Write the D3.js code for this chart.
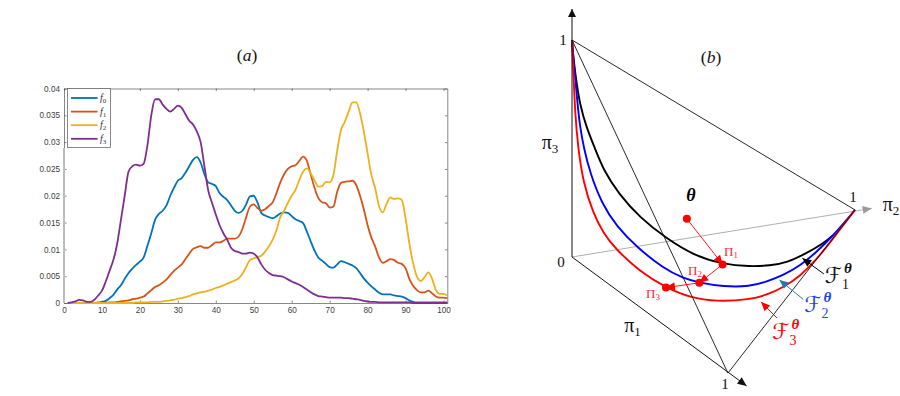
<!DOCTYPE html>
<html>
<head>
<meta charset="utf-8">
<script src="https://cdn.jsdelivr.net/npm/d3@7"></script>
<style>
  html, body { margin: 0; padding: 0; background: #fff; }
  svg { display: block; }
  .math { font-family: 'Liberation Serif', serif; }
  .script { font-family: 'DejaVu Sans', sans-serif; }
  .axis text { font-family: 'Liberation Sans', sans-serif; font-size: 8.2px; fill: #404040; }
  .axis path, .axis line { stroke: #555; stroke-width: 0.7; }
</style>
</head>
<body>
<div id="chart"></div>
<script>
// values at x = 1 ... 101
const f0 = [
  0, 0, 0, 0, 0, 0, 0, 0, 0.0001, 0.0002,
  0.0004, 0.0009, 0.0015, 0.0025, 0.0033, 0.0045, 0.0056, 0.0064, 0.0071, 0.0077,
  0.0085, 0.0107, 0.013, 0.0155, 0.0166, 0.0172, 0.0182, 0.02, 0.0215, 0.0228,
  0.0233, 0.0243, 0.0255, 0.0267, 0.0272, 0.0262, 0.024, 0.0225, 0.0222, 0.0218,
  0.0205, 0.0198, 0.0192, 0.0182, 0.0172, 0.0168, 0.0172, 0.0184, 0.0199, 0.02,
  0.0187, 0.0168, 0.0163, 0.016, 0.0158, 0.0162, 0.0167, 0.0169, 0.0168, 0.0162,
  0.0156, 0.0153, 0.0149, 0.0133, 0.0115, 0.0098, 0.0085, 0.0079, 0.0073, 0.0067,
  0.0066, 0.0072, 0.0078, 0.0076, 0.0073, 0.007, 0.0065, 0.0056, 0.0046, 0.0038,
  0.0031, 0.0025, 0.0019, 0.0016, 0.0016, 0.0016, 0.0014, 0.0013, 0.0012, 0.0009,
  0.0005, 0.0002, 0.0001, 0.0001, 0.0001, 0.0001, 0.0001, 0.0001, 0.0001, 0.0001,
  0.0001
]
const f1 = [
  0, 0, 0, 0, 0, 0, 0, 0, 0, 0,
  0, 0.0001, 0.0001, 0.0002, 0.0003, 0.0004, 0.0005, 0.0007, 0.0008, 0.001,
  0.0012, 0.0018, 0.0024, 0.003, 0.0033, 0.0038, 0.0044, 0.0052, 0.006, 0.0066,
  0.0072, 0.0082, 0.0092, 0.0101, 0.0104, 0.0106, 0.0103, 0.0103, 0.0108, 0.0113,
  0.0113, 0.0116, 0.012, 0.012, 0.012, 0.0124, 0.0138, 0.016, 0.018, 0.0184,
  0.0177, 0.0172, 0.0175, 0.0181, 0.0188, 0.0205, 0.0225, 0.024, 0.025, 0.0255,
  0.0257, 0.0265, 0.0273, 0.0265, 0.024, 0.0215, 0.0196, 0.0188, 0.0186, 0.0178,
  0.018, 0.0208, 0.0224, 0.0226, 0.0227, 0.0228, 0.022, 0.02, 0.0175, 0.0145,
  0.0122, 0.0105, 0.0085, 0.0075, 0.0078, 0.0082, 0.008, 0.0075, 0.0073, 0.0065,
  0.0045, 0.0032, 0.0024, 0.002, 0.002, 0.0023, 0.0018, 0.0012, 0.001, 0.001,
  0.0009
]
const f2 = [
  0, 0, 0, 0, 0, 0, 0, 0, 0, 0,
  0, 0, 0, 0, 0, 0, 0, 0, 0.0001, 0.0001,
  0.0001, 0.0001, 0.0002, 0.0002, 0.0002, 0.0003, 0.0004, 0.0005, 0.0006, 0.0008,
  0.0009, 0.0011, 0.0013, 0.0016, 0.0018, 0.002, 0.0021, 0.0023, 0.0025, 0.0028,
  0.003, 0.0033, 0.0036, 0.0039, 0.0042, 0.0046, 0.0054, 0.0067, 0.008, 0.0083,
  0.0086, 0.0088, 0.0096, 0.0106, 0.0118, 0.0136, 0.016, 0.0172, 0.0187, 0.02,
  0.0211, 0.0229, 0.0245, 0.0251, 0.0242, 0.0229, 0.0217, 0.0218, 0.0226, 0.0225,
  0.0239, 0.0285, 0.0323, 0.0338, 0.0357, 0.0374, 0.0374, 0.0354, 0.032, 0.0279,
  0.0239, 0.0214, 0.0181, 0.0169, 0.0185, 0.0197, 0.0194, 0.0195, 0.0192, 0.0158,
  0.0111, 0.0074, 0.0049, 0.0041, 0.0048, 0.0057, 0.0045, 0.0024, 0.0017, 0.0017,
  0.0014
]
const f3 = [
  0, 0.0001, 0.0003, 0.0006, 0.0005, 0.0002, 0.0002, 0.0006, 0.0014, 0.0023,
  0.004, 0.006, 0.008, 0.011, 0.0155, 0.02, 0.0245, 0.0255, 0.0258, 0.0256,
  0.026, 0.0295, 0.035, 0.038, 0.038, 0.037, 0.0362, 0.0357, 0.0362, 0.0368,
  0.0364, 0.0352, 0.034, 0.0333, 0.032, 0.03, 0.0255, 0.021, 0.0187, 0.0165,
  0.0145, 0.013, 0.0118, 0.0103, 0.0097, 0.0095, 0.0092, 0.0092, 0.0094, 0.0092,
  0.0085, 0.0072, 0.0062, 0.0056, 0.0052, 0.0051, 0.005, 0.0048, 0.0044, 0.004,
  0.0037, 0.0034, 0.003, 0.0025, 0.002, 0.0016, 0.0013, 0.0012, 0.0011, 0.001,
  0.001, 0.001, 0.001, 0.0009, 0.0009, 0.0008, 0.0007, 0.0006, 0.0004, 0.0003,
  0.0002, 0.0002, 0.0001, 0.0001, 0.0001, 0.0001, 0.0001, 0.0001, 0.0001, 0.0001,
  0.0001, 0, 0, 0, 0, 0, 0, 0, 0, 0,
  0
]
const seriesNames = ['0', '1', '2', '3']
const seriesColors = ['#0072bd', '#d95319', '#edb120', '#7e2f8e']
const xTicks = [0, 10, 20, 30, 40, 50, 60, 70, 80, 90, 100]
const yTicks = [0, 0.005, 0.01, 0.015, 0.02, 0.025, 0.03, 0.035, 0.04]

// right panel, unit coordinates: x from the origin to pi2 = 1, y from the origin to pi3 = 1
const curveF1 = [
  [0, 1], [0.005, 0.917], [0.013, 0.831], [0.028, 0.7], [0.052, 0.594], [0.081, 0.501],
  [0.111, 0.401], [0.164, 0.293], [0.24, 0.181], [0.334, 0.085], [0.428, 0.009],
  [0.532, -0.034], [0.629, -0.044], [0.7, -0.04], [0.759, -0.026], [0.829, 0.017],
  [0.888, 0.063], [0.921, 0.098]
]
const curveF2 = [
  [0, 1], [0.005, 0.908], [0.011, 0.839], [0.017, 0.739], [0.028, 0.6], [0.042, 0.502],
  [0.064, 0.386], [0.105, 0.247], [0.158, 0.14], [0.229, 0.045], [0.323, -0.052],
  [0.393, -0.098], [0.45, -0.118], [0.535, -0.137], [0.629, -0.136], [0.688, -0.114],
  [0.747, -0.083], [0.806, -0.041], [0.865, 0.024], [0.922, 0.097], [1, 0.217]
]
const curveF3 = [
  [0, 1], [0.005, 0.848], [0.011, 0.664], [0.021, 0.507], [0.04, 0.34], [0.075, 0.201],
  [0.111, 0.109], [0.152, 0.04], [0.24, -0.068], [0.332, -0.141], [0.417, -0.187],
  [0.511, -0.206], [0.629, -0.196], [0.688, -0.175], [0.747, -0.14], [0.806, -0.088],
  [0.865, -0.011], [0.923, 0.086], [1, 0.217]
]
const origin = [0, 0]
const vertexPi1 = [0.551, -0.535]
const vertexPi2 = [1, 0.217]
const vertexPi3 = [0, 1]
const axisEndPi1 = [0.617, -0.594]
const axisEndPi2 = [1.059, 0.224]
const axisEndPi3 = [0, 1.143]
const theta = [0.406, 0.176]
const proj1 = [0.532, -0.034]
const proj2 = [0.45, -0.119]
const proj3 = [0.332, -0.141]
const noteArrows = [
  { from: [0.89, -0.078], to: [0.814, -0.006], color: '#000' },
  { from: [0.817, -0.195], to: [0.733, -0.106], color: '#1f78b4' },
  { from: [0.724, -0.281], to: [0.668, -0.207], color: '#f00' }
]

const svg = d3.select('#chart').append('svg').attr('width', 900).attr('height', 396)

// Left panel

const xScale = d3.scaleLinear().domain([0, 101]).range([64, 447.3])
const yScale = d3.scaleLinear().domain([0, 0.04]).range([303, 88.5])

const yFormat = d => (d === 0 ? '0' : String(+d.toFixed(3)))

svg.append('g').attr('class', 'axis')
  .attr('transform', 'translate(0,303)')
  .call(d3.axisBottom(xScale).tickValues(xTicks).tickSizeInner(-2.5).tickSizeOuter(0).tickPadding(4).tickFormat(d3.format('d')))
svg.append('g').attr('class', 'axis')
  .attr('transform', 'translate(64,0)')
  .call(d3.axisLeft(yScale).tickValues(yTicks).tickSizeInner(-2.5).tickSizeOuter(0).tickPadding(4).tickFormat(yFormat))
svg.append('g').attr('class', 'axis')
  .attr('transform', 'translate(0,88.5)')
  .call(d3.axisTop(xScale).tickValues(xTicks).tickSizeInner(-2.5).tickSizeOuter(0).tickFormat(''))
svg.append('g').attr('class', 'axis')
  .attr('transform', 'translate(447.3,0)')
  .call(d3.axisRight(yScale).tickValues(yTicks).tickSizeInner(-2.5).tickSizeOuter(0).tickFormat(''))

// pale band on the left edge below the legend
svg.append('line')
  .attr('x1', 64).attr('x2', 64)
  .attr('y1', 148).attr('y2', 303)
  .attr('stroke', '#bdbdbd').attr('stroke-width', 2)

const line = d3.line()
  .x((d, i) => xScale(i + 1))
  .y(d => yScale(d))
  .curve(d3.curveMonotoneX)

svg.selectAll('.series')
  .data([f0, f1, f2, f3])
  .enter()
  .append('path')
  .attr('class', 'series')
  .attr('fill', 'none')
  .attr('stroke', (d, i) => seriesColors[i])
  .attr('stroke-width', 1.8)
  .attr('stroke-linejoin', 'round')
  .attr('d', line)

// legend
const legend = svg.append('g')
legend.append('rect')
  .attr('x', 67.5).attr('y', 88.5).attr('width', 43).attr('height', 59)
  .attr('fill', '#fff').attr('stroke', '#555').attr('stroke-width', 0.7)

seriesNames.forEach((name, i) => {
  const y = 98 + i * 13.6
  legend.append('line')
    .attr('x1', 71).attr('x2', 97.5).attr('y1', y).attr('y2', y)
    .attr('stroke', seriesColors[i]).attr('stroke-width', 1.8)
  const label = legend.append('text')
    .attr('class', 'math')
    .attr('x', 100).attr('y', y + 3)
    .attr('font-size', 10).attr('font-style', 'italic').attr('fill', '#333')
    .text('f')
  label.append('tspan')
    .attr('dy', 2).attr('font-size', 7).attr('font-style', 'normal')
    .text(name)
})

function addText(x, y, size, text, color, style) {
  return svg.append('text')
    .attr('class', 'math')
    .attr('x', x).attr('y', y)
    .attr('font-size', size)
    .attr('text-anchor', 'middle')
    .attr('fill', color || '#111')
    .attr('font-style', style || 'normal')
    .text(text)
}

function addTitle(x, y, letter) {
  const t = addText(x, y, 17.5, '(')
  t.append('tspan').attr('font-style', 'italic').text(letter)
  t.append('tspan').text(')')
}

addTitle(247, 61, 'a')
addTitle(711, 63, 'b')

// Right panel

const uScale = d3.scaleLinear().domain([0, 1]).range([572, 855])
const vScale = d3.scaleLinear().domain([0, 1]).range([257, 40])

function segment(a, b, color, width) {
  svg.append('line')
    .attr('x1', uScale(a[0])).attr('y1', vScale(a[1]))
    .attr('x2', uScale(b[0])).attr('y2', vScale(b[1]))
    .attr('stroke', color).attr('stroke-width', width)
}

function arrowHead(a, b, color, length, halfWidth) {
  const x1 = uScale(a[0])
  const y1 = vScale(a[1])
  const x2 = uScale(b[0])
  const y2 = vScale(b[1])
  const angle = Math.atan2(y2 - y1, x2 - x1)
  const path = d3.path()
  path.moveTo(x2, y2)
  path.lineTo(x2 - length * Math.cos(angle) - halfWidth * Math.sin(angle), y2 - length * Math.sin(angle) + halfWidth * Math.cos(angle))
  path.lineTo(x2 - length * Math.cos(angle) + halfWidth * Math.sin(angle), y2 - length * Math.sin(angle) - halfWidth * Math.cos(angle))
  path.closePath()
  svg.append('path').attr('d', path.toString()).attr('fill', color)
}

function arrow(a, b, color, width, length, halfWidth) {
  segment(a, b, color, width)
  arrowHead(a, b, color, length, halfWidth)
}

// grey pi2 axis sits behind everything
arrow(origin, axisEndPi2, '#999', 0.8, 9, 4)

const curveLine = d3.line()
  .x(d => uScale(d[0]))
  .y(d => vScale(d[1]))
  .curve(d3.curveBasis)

svg.selectAll('.curve')
  .data([
    { points: curveF1, color: '#000' },
    { points: curveF2, color: '#00f' },
    { points: curveF3, color: '#f00' }
  ])
  .enter()
  .append('path')
  .attr('class', 'curve')
  .attr('fill', 'none')
  .attr('stroke', d => d.color)
  .attr('stroke-width', 1.9)
  .attr('d', d => curveLine(d.points))

// simplex edges and axes
arrow(origin, axisEndPi3, '#111', 1, 8, 4)
arrow(origin, axisEndPi1, '#111', 1, 9, 4)
segment(vertexPi3, vertexPi2, '#111', 0.9)
segment(vertexPi3, vertexPi1, '#111', 0.9)
segment(vertexPi1, vertexPi2, '#111', 0.9)

// projections
arrow(theta, proj1, '#f00', 0.9, 9, 4)
arrow(proj1, proj2, '#f00', 0.9, 9, 4)
arrow(proj2, proj3, '#f00', 0.9, 9, 4)

svg.selectAll('.proj')
  .data([theta, proj1, proj2, proj3])
  .enter()
  .append('circle')
  .attr('class', 'proj')
  .attr('cx', d => uScale(d[0]))
  .attr('cy', d => vScale(d[1]))
  .attr('r', 4)
  .attr('fill', '#f00')

noteArrows.forEach(d => arrow(d.from, d.to, d.color, 1, 9, 4))

// labels
addText(563, 45, 15, '1')
addText(561, 267, 15, '0')
addText(725, 389, 15, '1')
addText(853, 202, 15, '1')

function addPi(x, y, sub) {
  const t = addText(x, y, 20, 'π')
  t.append('tspan').attr('dy', 4).attr('font-size', 13).text(sub)
}

addPi(550, 149, '3')
addPi(632.5, 332, '1')
addPi(891, 211, '2')

const thetaLabel = addText(691, 201, 18, 'θ', '#000', 'italic')
thetaLabel.attr('font-weight', 'bold')

function addProj(x, y, sub) {
  const t = addText(x, y, 13, 'Π', '#f23')
  t.append('tspan').attr('dy', 2).attr('font-size', 9).text(sub)
}

addProj(731, 256, '1')
addProj(695, 275, '2')
addProj(653, 298, '3')

function addFamily(x, y, sub, color) {
  addText(x, y + 7, 22, 'ℱ', color).attr('class', 'script')
  addText(x + 14.5, y - 3, 15, 'θ', color, 'italic').attr('font-weight', 'bold')
  addText(x + 12, y + 13, 14, sub, color)
}

addFamily(833.5, 276, '1', '#111')
addFamily(813, 305, '2', '#1f45e0')
addFamily(781, 332, '3', '#f00')
</script>
</body>
</html>
